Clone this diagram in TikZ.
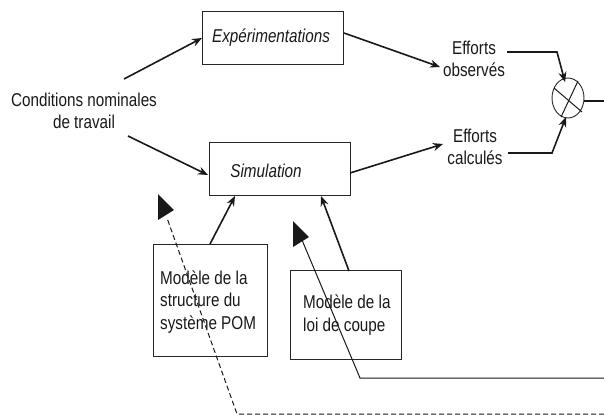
\documentclass[tikz,border=0pt]{standalone}
\usepackage{fontspec}
\setmainfont{Liberation Sans}[FakeStretch=0.82]
\usetikzlibrary{arrows.meta,shapes.geometric}
\begin{document}
\begin{tikzpicture}[x=1pt,y=-1pt,
  every node/.style={font=\fontsize{18.6}{22.3}\selectfont, inner sep=0pt, text=black!90},
  boxn/.style={draw=black!85, line width=0.9pt},
  arr/.style={line width=1.6pt, draw=black!90, -{Stealth[length=10pt,width=8pt]}},
  thinl/.style={line width=1pt, draw=black!90},
  bigtip/.style={fill=black!90, draw=none}]
\useasboundingbox (0,0) rectangle (604,416);
% boxes
\draw[boxn] (202,11) rectangle (343,64);
\node (exp) at (271,38) {\itshape Expérimentations};
\draw[boxn] (209,142) rectangle (350,195);
\node (sim) at (266,171) {\itshape Simulation};
\draw[boxn] (153,244) rectangle (267,356);
\node[anchor=west, align=left] (struct) at (160,302) {Modèle de la\\structure du\\système POM};
\draw[boxn] (290,270) rectangle (401,359);
\node[anchor=west, align=left] (loi) at (303,315) {Modèle de la\\loi de coupe};
% texts
\node[align=center] (cond) at (84,111) {Conditions nominales\\de travail};
\node[align=center] (obs) at (474,59) {Efforts\\observés};
\node[align=center] (calc) at (475,147) {Efforts\\calculés};
% comparator
\node[draw=black!85, line width=0.9pt, ellipse, minimum width=32pt, minimum height=40pt] (cmp) at (568,98) {};
\draw[thinl] (554,88) -- (582,112);
\draw[thinl] (578,81) -- (561,117);
% coordinates
\coordinate (c1) at (124,79);
\coordinate (e1) at (202,38);
\coordinate (c2) at (128,136);
\coordinate (s1) at (208,175);
\coordinate (x1) at (344,33);
\coordinate (o1) at (440,67);
\coordinate (s2) at (350,173);
\coordinate (k1) at (443,144);
\coordinate (o2) at (507,52);
\coordinate (o3) at (557,52);
\coordinate (m1) at (565,82);
\coordinate (k2) at (508,153);
\coordinate (k3) at (552,153);
\coordinate (m2) at (566,117);
\coordinate (cmpe) at (584,101);
\coordinate (out) at (604,101);
\coordinate (st1) at (210,244);
\coordinate (sb1) at (235,196);
\coordinate (lt1) at (349,271);
\coordinate (sb2) at (321,196);
% connectors
\draw[arr] (c1) -- (e1);
\draw[arr] (c2) -- (s1);
\draw[arr] (x1) -- (o1);
\draw[arr] (s2) -- (k1);
\draw[arr] (o2) -- (o3) -- (m1);
\draw[arr] (k2) -- (k3) -- (m2);
\draw[line width=1.6pt, draw=black!90] (cmpe) -- (out);
\draw[arr] (st1) -- (sb1);
\draw[arr] (lt1) -- (sb2);
% feedback lines
\draw[thinl] (604,378) -- (360,378) -- (302,240);
\fill[bigtip] (293,221) -- (293,247) -- (309,237) -- cycle;
\draw[thinl, dash pattern=on 5pt off 3pt] (604,414) -- (237,414) -- (167,218);
\fill[bigtip] (158,194) -- (158,220) -- (174,210) -- cycle;
\end{tikzpicture}
\end{document}
